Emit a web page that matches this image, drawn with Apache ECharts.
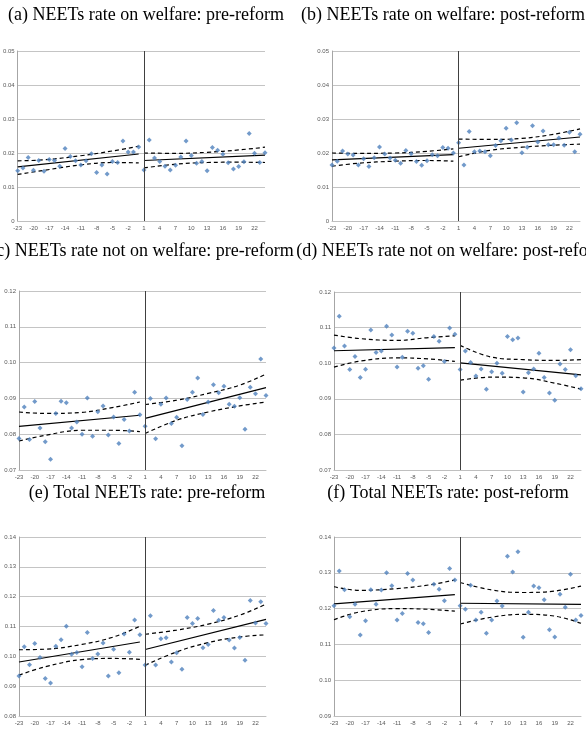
<!DOCTYPE html>
<html>
<head>
<meta charset="utf-8">
<script src="https://cdn.jsdelivr.net/npm/echarts@6/dist/echarts.min.js"></script>
<style>
  body { margin: 0; background: #fff; }
  #chart { width: 586px; height: 729px; }
</style>
</head>
<body>
<div id="chart"></div>
<script>
// months relative to the reform, -23 .. 24
var xCats = ['-23','-22','-21','-20','-19','-18','-17','-16','-15','-14','-13','-12','-11','-10','-9','-8','-7','-6','-5','-4','-3','-2','-1','0',
             '1','2','3','4','5','6','7','8','9','10','11','12','13','14','15','16','17','18','19','20','21','22','23','24'];
var preBandX = ['-23','-18','-11','-5','0'];
var postBandX = ['1','7','13','19','24'];

var titles = [
  '(a) NEETs rate on welfare: pre-reform',
  '(b) NEETs rate on welfare: post-reform',
  '(c) NEETs rate not on welfare: pre-reform',
  '(d) NEETs rate not on welfare: post-reform',
  '(e) Total NEETs rate: pre-reform',
  '(f) Total NEETs rate: post-reform'
];

// (a)
var aPre = [0.0148,0.0156,0.0187,0.0149,0.0178,0.0146,0.0181,0.0178,0.0161,0.0213,0.0190,0.0177,0.0165,0.0177,0.0198,0.0143,0.0165,0.0138,0.0175,0.0172,0.0235,0.0203,0.0203,0.0218];
var aPost = [0.0150,0.0238,0.0185,0.0175,0.0161,0.0150,0.0164,0.0188,0.0235,0.0193,0.0170,0.0175,0.0148,0.0216,0.0208,0.0196,0.0171,0.0153,0.0160,0.0174,0.0257,0.0199,0.0172,0.0201];
var aPreFit = [0.0159,0.0197], aPostFit = [0.0178,0.0194];
var aPreUp = [0.0177,0.0180,0.0192,0.0206,0.0220], aPreLo = [0.0137,0.0149,0.0165,0.0172,0.0171];
var aPostUp = [0.0200,0.0199,0.0202,0.0209,0.0217], aPostLo = [0.0156,0.0167,0.0172,0.0173,0.0172];

// (b)
var bPre = [0.0165,0.0176,0.0206,0.0197,0.0194,0.0165,0.0183,0.0160,0.0186,0.0218,0.0197,0.0185,0.0179,0.0170,0.0207,0.0198,0.0175,0.0164,0.0177,0.0195,0.0192,0.0216,0.0214,0.0200];
var bPost = [0.0230,0.0165,0.0263,0.0204,0.0206,0.0204,0.0192,0.0222,0.0236,0.0273,0.0238,0.0289,0.0201,0.0217,0.0280,0.0232,0.0265,0.0224,0.0224,0.0244,0.0223,0.0261,0.0204,0.0255];
var bPreFit = [0.0180,0.0195], bPostFit = [0.0214,0.0247];
var bPreUp = [0.0200,0.0199,0.0200,0.0205,0.0212], bPreLo = [0.0161,0.0170,0.0176,0.0178,0.0176];
var bPostUp = [0.0241,0.0240,0.0243,0.0255,0.0271], bPostLo = [0.0189,0.0208,0.0217,0.0223,0.0226];

// (c)
var cPre = [0.0788,0.0876,0.0785,0.0891,0.0817,0.0779,0.0730,0.0858,0.0892,0.0888,0.0817,0.0834,0.0800,0.0901,0.0794,0.0863,0.0879,0.0798,0.0848,0.0774,0.0841,0.0809,0.0917,0.0854];
var cPost = [0.0822,0.0900,0.0787,0.0884,0.0901,0.0830,0.0847,0.0768,0.0897,0.0917,0.0957,0.0855,0.0890,0.0938,0.0916,0.0934,0.0884,0.0878,0.0902,0.0814,0.0931,0.0913,0.1010,0.0908];
var cPreFit = [0.0822,0.0853], cPostFit = [0.0844,0.0930];
var cPreUp = [0.0862,0.0858,0.0861,0.0875,0.0890], cPreLo = [0.0781,0.0797,0.0811,0.0811,0.0807];
var cPostUp = [0.0883,0.0895,0.0914,0.0937,0.0968], cPostLo = [0.0802,0.0839,0.0862,0.0879,0.0890];

// (d)
var dPre = [0.1043,0.1132,0.1048,0.0982,0.1019,0.0960,0.0983,0.1093,0.1030,0.1034,0.1104,0.1079,0.0989,0.1017,0.1090,0.1084,0.0986,0.0993,0.0955,0.1075,0.1062,0.1005,0.1099,0.1081];
var dPost = [0.0982,0.1034,0.1002,0.0964,0.0984,0.0927,0.0976,0.1000,0.0972,0.1075,0.1066,0.1071,0.0919,0.0973,0.0984,0.1028,0.0960,0.0916,0.0896,0.0998,0.0982,0.1038,0.0965,0.0928];
var dPreFit = [0.1035,0.1044], dPostFit = [0.1001,0.0967];
var dPreUp = [0.1079,0.1069,0.1064,0.1072,0.1077], dPreLo = [0.0989,0.1006,0.1015,0.1012,0.1005];
var dPostUp = [0.1050,0.1017,0.1010,0.1008,0.1010], dPostLo = [0.0952,0.0961,0.0959,0.0944,0.0927];

// (e)
var ePre = [0.0934,0.1032,0.0972,0.1043,0.0996,0.0926,0.0911,0.1034,0.1056,0.1101,0.1007,0.1013,0.0965,0.1080,0.0993,0.1008,0.1045,0.0934,0.1024,0.0945,0.1075,0.1014,0.1122,0.1072];
var ePost = [0.0971,0.1136,0.0971,0.1059,0.1062,0.0981,0.1012,0.0957,0.1130,0.1110,0.1127,0.1029,0.1040,0.1154,0.1121,0.1130,0.1055,0.1028,0.1063,0.0987,0.1187,0.1112,0.1183,0.1110];
var ePreFit = [0.0981,0.1048], ePostFit = [0.1023,0.1124];
var ePreUp = [0.1022,0.1024,0.1040,0.1065,0.1101], ePreLo = [0.0937,0.0965,0.0989,0.0993,0.0990];
var ePostUp = [0.1074,0.1088,0.1108,0.1138,0.1175], ePostLo = [0.0970,0.1015,0.1046,0.1065,0.1072];

// (f)
var fPre = [0.1208,0.1305,0.1253,0.1177,0.1212,0.1126,0.1166,0.1253,0.1212,0.1252,0.1300,0.1264,0.1168,0.1186,0.1298,0.1280,0.1161,0.1158,0.1133,0.1268,0.1254,0.1222,0.1312,0.1280];
var fPost = [0.1208,0.1198,0.1265,0.1168,0.1190,0.1131,0.1168,0.1221,0.1207,0.1346,0.1302,0.1359,0.1120,0.1190,0.1263,0.1258,0.1225,0.1141,0.1121,0.1240,0.1204,0.1296,0.1168,0.1181];
var fPreFit = [0.1213,0.1239], fPostFit = [0.1215,0.1212];
var fPreUp = [0.1261,0.1251,0.1256,0.1266,0.1280], fPreLo = [0.1169,0.1191,0.1200,0.1198,0.1193];
var fPostUp = [0.1273,0.1252,0.1245,0.1249,0.1263], fPostLo = [0.1157,0.1176,0.1184,0.1179,0.1159];

var yMins = [0, 0, 0.07, 0.07, 0.08, 0.09];
var yMaxs = [0.05, 0.05, 0.12, 0.12, 0.14, 0.14];

var panels = [
  [aPre, aPost, aPreFit, aPostFit, aPreUp, aPreLo, aPostUp, aPostLo],
  [bPre, bPost, bPreFit, bPostFit, bPreUp, bPreLo, bPostUp, bPostLo],
  [cPre, cPost, cPreFit, cPostFit, cPreUp, cPreLo, cPostUp, cPostLo],
  [dPre, dPost, dPreFit, dPostFit, dPreUp, dPreLo, dPostUp, dPostLo],
  [ePre, ePost, ePreFit, ePostFit, ePreUp, ePreLo, ePostUp, ePostLo],
  [fPre, fPost, fPreFit, fPostFit, fPreUp, fPreLo, fPostUp, fPostLo]
];

// plot boxes in pixels
var gridBoxes = [
  {left: 17,  top: 51,  width: 248, height: 170},
  {left: 332, top: 51,  width: 248, height: 170},
  {left: 19,  top: 291, width: 247, height: 179},
  {left: 334, top: 292, width: 247, height: 178},
  {left: 19,  top: 537, width: 247, height: 179},
  {left: 334, top: 537, width: 247, height: 179}
];
var titlePos = [[146, 15], [443, 15], [142, 251], [452, 251], [147, 493], [448, 493]];

var grids = [], xAxes = [], yAxes = [], series = [], texts = [];

var pairs = (xs, ys) => xs.map((x, i) => [x, ys[i]]);
var dashStyle = {color: '#000', width: 1.2, type: [4, 3]};

panels.forEach((p, k) => {
  var g = gridBoxes[k];
  grids.push({left: g.left, top: g.top, width: g.width, height: g.height, containLabel: false});
  xAxes.push({
    type: 'category', gridIndex: k, data: xCats, boundaryGap: false,
    axisLine: {show: true, lineStyle: {color: '#bfbfbf'}},
    axisTick: {show: false},
    axisLabel: {interval: 2, fontSize: 6, color: '#595959', margin: 4, fontFamily: 'Liberation Sans'},
    splitLine: {show: false}
  });
  yAxes.push({
    type: 'value', gridIndex: k, min: yMins[k], max: yMaxs[k], interval: 0.01,
    axisLine: {show: true, lineStyle: {color: '#a6a6a6'}},
    axisTick: {show: false},
    axisLabel: {fontSize: 6, color: '#595959', margin: 3, fontFamily: 'Liberation Sans',
      formatter: (v) => v === 0 ? '0' : v.toFixed(2)},
    splitLine: {show: true, lineStyle: {color: '#c4c4c4', width: 1.2}}
  });

  var pre = p[0], post = p[1];
  series.push({
    type: 'scatter', xAxisIndex: k, yAxisIndex: k, symbol: 'diamond', symbolSize: 5,
    itemStyle: {color: '#4f81bd'}, silent: true, z: 3,
    data: pairs(xCats.slice(0, 24), pre).concat(pairs(xCats.slice(24), post)),
    markLine: {
      silent: true, symbol: 'none', label: {show: false},
      lineStyle: {color: '#404040', width: 1, type: 'solid'},
      data: [{xAxis: '1'}]
    }
  });
  // fitted lines
  series.push({type: 'line', xAxisIndex: k, yAxisIndex: k, symbol: 'none', silent: true,
    lineStyle: {color: '#000', width: 1.2}, data: [['-23', p[2][0]], ['0', p[2][1]]]});
  series.push({type: 'line', xAxisIndex: k, yAxisIndex: k, symbol: 'none', silent: true,
    lineStyle: {color: '#000', width: 1.2}, data: [['1', p[3][0]], ['24', p[3][1]]]});
  // confidence bands
  [[preBandX, p[4]], [preBandX, p[5]], [postBandX, p[6]], [postBandX, p[7]]].forEach((b) => {
    series.push({type: 'line', xAxisIndex: k, yAxisIndex: k, symbol: 'none', silent: true, smooth: 0.4,
      lineStyle: dashStyle, data: pairs(b[0], b[1])});
  });

  texts.push({
    type: 'text', x: titlePos[k][0], y: titlePos[k][1],
    style: {text: titles[k], fontSize: 18, fontFamily: 'Liberation Serif', fill: '#000',
      align: 'center', verticalAlign: 'middle'}
  });
});

var chart = echarts.init(document.getElementById('chart'));
chart.setOption({
  animation: false,
  grid: grids,
  xAxis: xAxes,
  yAxis: yAxes,
  series: series,
  graphic: texts
});
</script>
</body>
</html>
